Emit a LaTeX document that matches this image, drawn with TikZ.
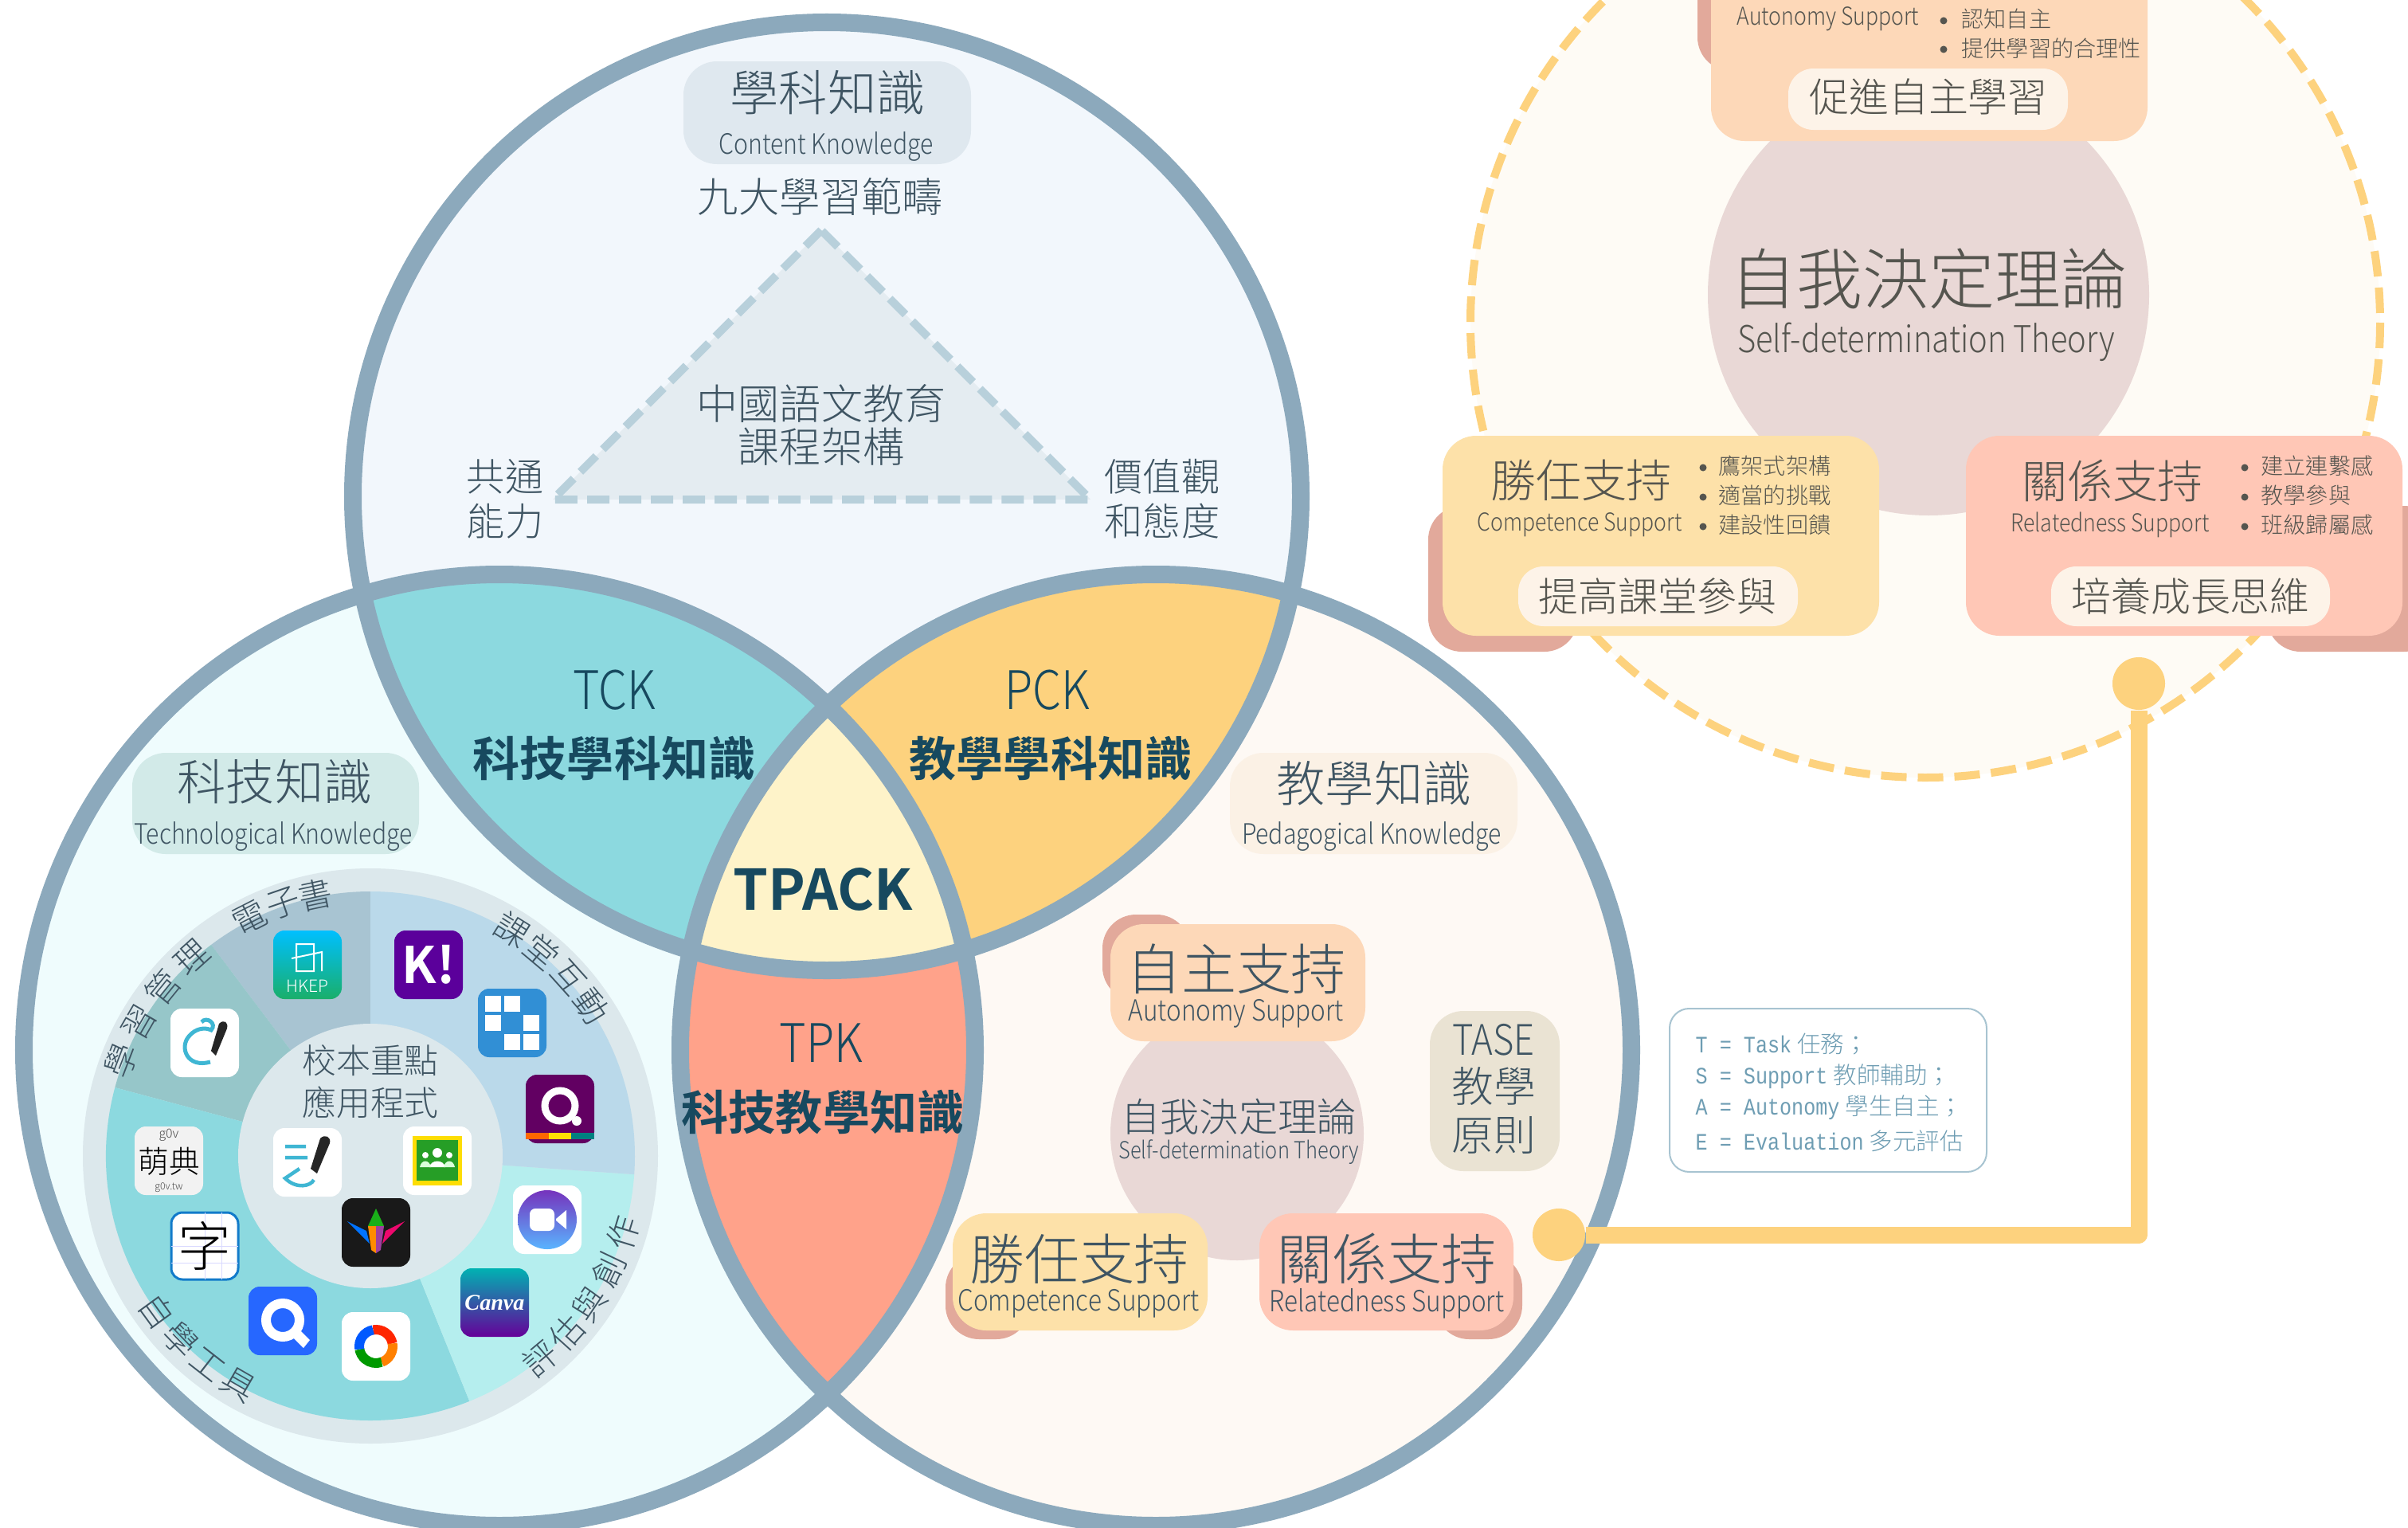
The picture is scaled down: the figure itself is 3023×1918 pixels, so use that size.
\documentclass[tikz,border=0pt]{standalone}
\usepackage{fontspec}
\setmainfont{Noto Sans CJK TC}[UprightFont=* Light,BoldFont=* Bold]
\newfontfamily\latinf{Noto Sans CJK TC}[UprightFont=* Light,BoldFont=* Bold,FakeStretch=0.86]
\newfontfamily\monof{Liberation Mono}[FakeStretch=0.85]
\newfontfamily\canvaf{Liberation Serif}
\usetikzlibrary{calc,shadings}

\definecolor{ringblue}{HTML}{8CA9BC}
\definecolor{topfill}{HTML}{F2F7FC}
\definecolor{leftfill}{HTML}{EFFCFD}
\definecolor{rightfill}{HTML}{FEF9F4}
\definecolor{tckfill}{HTML}{8CD9DF}
\definecolor{pckfill}{HTML}{FDD27E}
\definecolor{tpkfill}{HTML}{FFA28A}
\definecolor{tpackfill}{HTML}{FEF3C9}
\definecolor{darktxt}{HTML}{3F5563}
\definecolor{browntxt}{HTML}{55554F}
\definecolor{tealtxt}{HTML}{17495F}
\definecolor{shadowpink}{HTML}{E2A99B}
\definecolor{autofill}{HTML}{FDD8B8}
\definecolor{compfill}{HTML}{FDE1A9}
\definecolor{relfill}{HTML}{FFC7B6}
\definecolor{pillfill}{HTML}{FDF3E8}
\definecolor{sdtpink}{HTML}{E9D8D6}
\definecolor{linkyellow}{HTML}{FDD27E}
\definecolor{legendtxt}{HTML}{6E9DB3}
\definecolor{wheelgrey}{HTML}{DCE8EC}
\definecolor{penteal}{HTML}{3FB6D3}
\definecolor{ebookwedge}{HTML}{A8C4D2}
\definecolor{classwedge}{HTML}{BAD9EA}
\definecolor{assesswedge}{HTML}{B5EEEE}
\definecolor{managewedge}{HTML}{96C6C9}
\definecolor{ckbox}{HTML}{DFE8EF}
\definecolor{tkbox}{HTML}{D2EAE8}
\definecolor{pkbox}{HTML}{FBF1E5}
\definecolor{tasebox}{HTML}{EAE3D3}
\definecolor{trianglefill}{HTML}{E4ECF1}
\definecolor{triangledash}{HTML}{B8D0DB}
\definecolor{panelfill}{HTML}{FEFBF5}

\begin{document}
\begin{tikzpicture}[x=0.01cm,y=-0.01cm,
	zh/.style = {inner sep=0, text=darktxt, font=\fontsize{#1}{#1}\selectfont},
	en/.style = {inner sep=0, text=darktxt, font=\latinf\fontsize{#1}{#1}\selectfont},
	brownzh/.style = {zh=#1, text=browntxt},
	brownen/.style = {en=#1, text=browntxt},
	boldzh/.style = {zh=#1, text=tealtxt, font=\bfseries\fontsize{#1}{#1}\selectfont},
	card/.style = {rounded corners=12pt},
	appicon/.style = {rounded corners=4pt},
	linkdot/.style = {circle, fill=linkyellow, minimum size=0.66cm, inner sep=0},
	tinybullet/.style = {circle, fill=browntxt, minimum size=0.09cm, inner sep=0}]
	\clip (0,0) rectangle (3023,1918);
	\fill[white] (0,0) rectangle (3023,1918);

	% three circles of the venn
	\coordinate (topc) at (1038,623);
	\coordinate (leftc) at (627,1318);
	\coordinate (rightc) at (1451,1318);
	\fill[leftfill] (leftc) circle [radius=597];
	\fill[rightfill] (rightc) circle [radius=597];
	\fill[topfill] (topc) circle [radius=595];
	\begin{scope}
		\clip (topc) circle [radius=595];
		\fill[tckfill] (leftc) circle [radius=597];
		\fill[pckfill] (rightc) circle [radius=597];
	\end{scope}
	\begin{scope}
		\clip (leftc) circle [radius=597];
		\fill[tpkfill] (rightc) circle [radius=597];
		\clip (rightc) circle [radius=597];
		\fill[tpackfill] (topc) circle [radius=595];
	\end{scope}
	\draw[ringblue,line width=0.22cm] (topc) circle [radius=595];
	\draw[ringblue,line width=0.22cm] (leftc) circle [radius=597];
	\draw[ringblue,line width=0.22cm] (rightc) circle [radius=597];

	% content knowledge
	\fill[card,fill=ckbox] (858,77) rectangle (1219,206);
	\node[zh=17.4] (cktitle) at (1039,116) {學科知識};
	\node[en=10] (cken) at (1037,184) {Content Knowledge};
	\node[zh=14.6] (nine) at (1030,247) {九大學習範疇};
	\fill[trianglefill] (1031,289) -- (694,627) -- (1369,627) -- cycle;
	\draw[triangledash,line width=0.1cm,dash pattern=on 0.28cm off 0.12cm] (1031,289) -- (694,627) -- (1369,627) -- cycle;
	\node[zh=14.8] (cn1) at (1031,507) {中國語文教育};
	\node[zh=14.8] (cn2) at (1031,561) {課程架構};
	\node[zh=13.7] (gen1) at (634,598) {共通};
	\node[zh=13.7] (gen2) at (634,654) {能力};
	\node[zh=13.7] (val1) at (1459,598) {價值觀};
	\node[zh=13.7] (val2) at (1459,654) {和態度};

	% overlaps
	\node[en=19,text=tealtxt] (tck) at (771,866) {TCK};
	\node[boldzh=16.8] (tckzh) at (771,952) {科技學科知識};
	\node[en=19,text=tealtxt] (pck) at (1315,866) {PCK};
	\node[boldzh=16.8] (pckzh) at (1319,952) {教學學科知識};
	\node[boldzh=20] (tpack) at (1033,1116) {TPACK};
	\node[en=19,text=tealtxt] (tpk) at (1031,1309) {TPK};
	\node[boldzh=16.8] (tpkzh) at (1033,1396) {科技教學知識};

	% technological knowledge
	\fill[card,fill=tkbox] (166,945) rectangle (526,1072);
	\node[zh=17.4] (tktitle) at (345,981) {科技知識};
	\node[en=10] (tken) at (343,1050) {Technological Knowledge};
	\begin{scope}[shift={(465,1451)},y=0.01cm]
		\fill[wheelgrey] (0,0) circle [radius=361];
		\fill[fill=ebookwedge] (0,0) -- (90:332) arc (90:127:332) -- cycle;
		\fill[fill=managewedge] (0,0) -- (127:332) arc (127:165:332) -- cycle;
		\fill[fill=tckfill] (0,0) -- (165:332) arc (165:292:332) -- cycle;
		\fill[fill=assesswedge] (0,0) -- (292:332) arc (292:356:332) -- cycle;
		\fill[fill=classwedge] (0,0) -- (356:332) arc (356:450:332) -- cycle;
		\fill[wheelgrey] (0,0) circle [radius=166];
		% ring labels, one glyph each
		\foreach \glyph/\ang in {電/117,子/109,書/102,學/159,習/150,管/141,理/132,課/58,堂/50,互/42,動/34}
			\node[zh=12,rotate=\ang-90] at (\ang:335) {\glyph};
		\foreach \glyph/\ang in {評/-50,估/-42,與/-34,創/-25.5,作/-17,自/-144,學/-136,工/-128,具/-120}
			\node[zh=12,rotate=\ang+90] at (\ang:332) {\glyph};
	\end{scope}
	\node[zh=12.2] (school1) at (465,1331) {校本重點};
	\node[zh=12.2] (school2) at (465,1384) {應用程式};

	% app icons
	\begin{scope}[shift={(386,1211)}]
		\shade[appicon,top color=cyan!75!blue,bottom color=teal!70!green!90] (-43,-43) rectangle (43,43);
		\draw[white,line width=0.02cm] (-14,-26) -- (8,-26) -- (8,8) -- (-14,8) -- cycle (-20,-8) -- (18,-16) -- (18,8);
		\node[inner sep=0,text=white,font=\fontsize{6}{6}\selectfont] (hkep) at (0,27) {HKEP};
	\end{scope}
	\begin{scope}[shift={(538,1211)}]
		\fill[appicon,fill=black!5!violet!75!blue] (-43,-43) rectangle (43,43);
		\node[inner sep=0,text=white,font=\bfseries\fontsize{18}{18}\selectfont] (kicon) at (0,0) {K!};
	\end{scope}
	\begin{scope}[shift={(643,1284)}]
		\fill[appicon,fill=cyan!65!blue!85] (-43,-43) rectangle (43,43);
		\foreach \gx/\gy in {-24/-24,0/-24,-24/0,24/0,0/24,24/24}
			\fill[white] (\gx-10,\gy-10) rectangle (\gx+10,\gy+10);
	\end{scope}
	\begin{scope}[shift={(703,1392)}]
		\fill[appicon,fill=violet!55!black!85!magenta] (-43,-43) rectangle (43,43);
		\fill[orange!80!red] (-43,30) rectangle (-14,38);
		\fill[yellow!85!orange] (-14,30) rectangle (14,38);
		\fill[teal] (14,30) rectangle (43,38);
		\draw[white,line width=0.09cm] (0,-4) circle [radius=19];
		\fill[white] (21,15) circle [radius=6];
	\end{scope}
	\begin{scope}[shift={(687,1531)}]
		\fill[appicon,fill=white] (-43,-43) rectangle (43,43);
		\shade[top color=violet!65!blue!80,bottom color=cyan!55!blue!65] (0,0) circle [radius=37];
		\fill[white,rounded corners=2pt] (-22,-14) rectangle (9,14);
		\fill[white] (11,-1) -- (24,-12) -- (24,12) -- (11,1) -- cycle;
	\end{scope}
	\begin{scope}[shift={(621,1635)}]
		\shade[appicon,top color=teal!60!cyan,bottom color=violet!80!blue] (-43,-43) rectangle (43,43);
		\node[inner sep=0,text=white,font=\canvaf\itshape\bfseries\fontsize{8}{8}\selectfont] (canva) at (0,0) {Canva};
	\end{scope}
	\begin{scope}[shift={(472,1690)}]
		\fill[appicon,fill=white] (-43,-43) rectangle (43,43);
		\begin{scope}[y=0.01cm]
			\draw[red!70!orange,line width=0.12cm] (100:21) arc (100:10:21);
			\draw[orange,line width=0.12cm] (10:21) arc (10:-70:21);
			\draw[green!60!black,line width=0.12cm] (-70:21) arc (-70:-170:21);
			\draw[blue!65!cyan,line width=0.12cm] (-170:21) arc (-170:-260:21);
		\end{scope}
	\end{scope}
	\begin{scope}[shift={(355,1658)}]
		\fill[appicon,fill=blue!70!cyan!85] (-43,-43) rectangle (43,43);
		\draw[white,line width=0.12cm] (0,-1) circle [radius=21];
		\fill[white] (10,18) -- (26,34) -- (34,24) -- (20,10) -- cycle;
	\end{scope}
	\begin{scope}[shift={(257,1564)}]
		\fill[appicon,fill=white,draw=cyan!60!blue,line width=0.03cm] (-42,-42) rectangle (42,42);
		\draw[blue!15,line width=0.01cm] (-42,0) -- (42,0) (-42,21) -- (42,21) (0,-42) -- (0,42) (21,-42) -- (21,42);
		\node[inner sep=0,text=black,font=\fontsize{19}{19}\selectfont] (ziicon) at (0,0) {字};
	\end{scope}
	\begin{scope}[shift={(212,1457)}]
		\fill[appicon,fill=black!5] (-43,-43) rectangle (43,43);
		\node[inner sep=0,text=black!70,font=\fontsize{4.5}{4.5}\selectfont] (govtop) at (0,-32) {g0v};
		\node[inner sep=0,text=black,font=\fontsize{11}{11}\selectfont] (mengdian) at (0,1) {萌典};
		\node[inner sep=0,text=black!70,font=\fontsize{3.5}{3.5}\selectfont] (govbot) at (0,34) {g0v.tw};
	\end{scope}
	\begin{scope}[shift={(257,1309)}]
		\fill[appicon,fill=white] (-43,-43) rectangle (43,43);
		\draw[penteal,line width=0.05cm] (7,24) .. controls (-22,32) and (-32,6) .. (-20,-8) .. controls (-12,-18) and (0,-20) .. (8,-16) .. controls (16,-24) and (2,-34) .. (-4,-26);
		\fill[black!85] (18,-24) .. controls (24,-30) and (30,-26) .. (28,-18) -- (14,16) -- (8,10) -- cycle;
	\end{scope}
	\begin{scope}[shift={(386,1459)}]
		\fill[appicon,fill=white] (-43,-43) rectangle (43,43);
		\draw[penteal,line width=0.045cm] (-28,-20) -- (-2,-20) (-28,-6) -- (0,-6) (-10,8) -- (-28,20) .. controls (-14,34) and (4,30) .. (8,22);
		\fill[black!85] (16,-30) .. controls (22,-36) and (30,-32) .. (28,-24) -- (12,14) -- (4,8) -- cycle;
	\end{scope}
	\begin{scope}[shift={(549,1457)}]
		\fill[appicon,fill=white] (-43,-43) rectangle (43,43);
		\fill[yellow!80!orange] (-31,-31) rectangle (31,31);
		\fill[green!55!black!85] (-26,-26) rectangle (26,25);
		\fill[white] (0,-10) circle [radius=6] (-15,-7) circle [radius=4] (15,-7) circle [radius=4];
		\fill[white] (-10,8) .. controls (-8,-2) and (8,-2) .. (10,8) -- cycle;
		\fill[white!85!green] (-22,8) .. controls (-20,-2) and (-10,-2) .. (-8,8) -- cycle (8,8) .. controls (10,-2) and (20,-2) .. (22,8) -- cycle;
	\end{scope}
	\begin{scope}[shift={(472,1547)}]
		\fill[appicon,fill=black!90] (-43,-43) rectangle (43,43);
		\fill[green!65!black!90] (0,-30) -- (-10,-8) -- (10,-8) -- cycle;
		\fill[orange!90!yellow] (-10,-8) -- (-6,22) -- (0,26) -- (0,-8) -- cycle;
		\fill[violet!75!white] (10,-8) -- (6,22) -- (0,26) -- (0,-8) -- cycle;
		\fill[blue!55!cyan] (-36,-14) -- (-12,-2) -- (-8,14) -- cycle;
		\fill[magenta!70!red] (36,-14) -- (12,-2) -- (8,14) -- cycle;
	\end{scope}

	% pedagogical knowledge
	\fill[card,fill=pkbox] (1544,945) rectangle (1905,1072);
	\node[zh=17.4] (pktitle) at (1725,983) {教學知識};
	\node[en=10] (pken) at (1722,1050) {Pedagogical Knowledge};
	\fill[sdtpink] (1553,1423) circle [radius=159];
	\fill[card,fill=shadowpink] (1384,1148) rectangle (1494,1256);
	\fill[card,fill=autofill] (1394,1160) rectangle (1714,1307);
	\node[zh=19.6] (pkauto) at (1552,1216) {自主支持};
	\node[en=10.4] (pkautoen) at (1552,1272) {Autonomy Support};
	\node[zh=14] (pksdt) at (1555,1402) {自我決定理論};
	\node[en=8.4] (pksdten) at (1555,1446) {Self-determination Theory};
	\fill[card,fill=tasebox] (1795,1269) rectangle (1958,1470);
	\node[en=15] (tase) at (1875,1305) {TASE};
	\node[zh=15] (tase1) at (1875,1363) {教學};
	\node[zh=15] (tase2) at (1875,1425) {原則};
	\fill[card,fill=shadowpink] (1187,1574) rectangle (1293,1681);
	\fill[card,fill=compfill] (1196,1523) rectangle (1516,1670);
	\node[zh=19.6] (pkcomp) at (1355,1580) {勝任支持};
	\node[en=10.4] (pkcompen) at (1354,1636) {Competence Support};
	\fill[card,fill=shadowpink] (1802,1574) rectangle (1911,1681);
	\fill[card,fill=relfill] (1581,1523) rectangle (1900,1670);
	\node[zh=19.6] (pkrel) at (1741,1580) {關係支持};
	\node[en=10.4] (pkrelen) at (1741,1636) {Relatedness Support};

	% legend
	\draw[rounded corners=7pt,fill=white,draw=legendtxt!60,line width=0.02cm] (2096,1266) rectangle (2494,1471);
	\foreach \ypos/\latin/\han in {1310/T = Task/任務；,1351/S = Support/教師輔助；,1390/A = Autonomy/學生自主；,1432/E = Evaluation/多元評估}
		\node[anchor=west,inner sep=0,text=legendtxt,font=\fontsize{8.4}{8.4}\selectfont] at (2128,\ypos) {{\monof\latin}\hspace{2pt}\han};

	% self-determination panel
	\fill[panelfill] (2417,405) circle [radius=571];
	\draw[linkyellow,line width=0.1cm,dash pattern=on 0.32cm off 0.14cm] (2417,405) circle [radius=571];
	\fill[sdtpink] (2421,370) circle [radius=277];
	\node[brownzh=23.6] (sdtzh) at (2421,350) {自我決定理論};
	\node[brownen=13.2] (sdten) at (2418,429) {Self-determination Theory};

	\fill[card,fill=shadowpink] (2131,-40) rectangle (2230,89);
	\fill[card,fill=autofill] (2148,-80) rectangle (2696,177);
	\node[brownen=8.8] (autoen) at (2295,24) {Autonomy Support};
	\node[tinybullet] (bul1) at (2440,26) {};
	\node[tinybullet] (bul2) at (2440,62) {};
	\node[brownzh=8,anchor=west] (auto1) at (2462,24) {認知自主};
	\node[brownzh=8,anchor=west] (auto2) at (2462,61) {提供學習的合理性};
	\fill[card,rounded corners=9pt,fill=pillfill] (2245,86) rectangle (2596,163);
	\node[brownzh=14.2] (autogoal) at (2421,122) {促進自主學習};

	\fill[card,fill=shadowpink] (1793,635) rectangle (1981,818);
	\fill[card,fill=compfill] (1811,547) rectangle (2359,798);
	\node[brownzh=16.2] (compzh) at (1985,603) {勝任支持};
	\node[brownen=8.8] (compen) at (1983,659) {Competence Support};
	\foreach \ypos/\item in {585/鷹架式架構,622/適當的挑戰,659/建設性回饋} {
		\node[tinybullet] at (2138,\ypos+2) {};
		\node[brownzh=8,anchor=west] at (2157,\ypos) {\item};
	}
	\fill[card,rounded corners=9pt,fill=pillfill] (1906,711) rectangle (2257,786);
	\node[brownzh=14.2] (compgoal) at (2081,748) {提高課堂參與};

	\fill[card,fill=shadowpink] (2846,635) rectangle (3060,818);
	\fill[card,fill=relfill] (2468,547) rectangle (3016,798);
	\node[brownzh=16.2] (relzh) at (2652,603) {關係支持};
	\node[brownen=8.8] (relen) at (2649,659) {Relatedness Support};
	\foreach \ypos/\item in {585/建立連繫感,622/教學參與,659/班級歸屬感} {
		\node[tinybullet] at (2818,\ypos+2) {};
		\node[brownzh=8,anchor=west] at (2838,\ypos) {\item};
	}
	\fill[card,rounded corners=9pt,fill=pillfill] (2575,711) rectangle (2925,786);
	\node[brownzh=14.2] (relgoal) at (2750,748) {培養成長思維};

	% link between the two
	\node[linkdot] (linka) at (1957,1550) {};
	\node[linkdot] (linkb) at (2685,858) {};
	\draw[linkyellow,line width=0.21cm,line join=round] (linka) -| (linkb);
\end{tikzpicture}
\end{document}
